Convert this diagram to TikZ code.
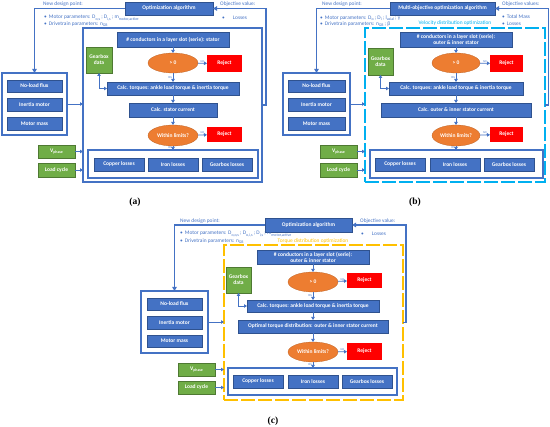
\documentclass[tikz,border=0pt]{standalone}
\usepackage{fontspec}
\setmainfont{Carlito}
\newfontfamily\capfont{Liberation Serif}
\usetikzlibrary{arrows.meta,shapes.geometric}
\definecolor{oblue}{HTML}{4472C4}
\definecolor{dblue}{HTML}{2F528F}
\definecolor{ogreen}{HTML}{70AD47}
\definecolor{oorange}{HTML}{ED7D31}
\definecolor{ored}{HTML}{FF0000}
\definecolor{ocyan}{HTML}{00B0F0}
\definecolor{ogold}{HTML}{FFC000}
\newcommand\sbs[1]{\raisebox{-0.45ex}{\fontsize{3.9}{4}\selectfont #1}}
\newcommand\bx[7]{\node[#6, minimum width={(#4-#2)*1pt}, minimum height={(#5-#3)*1pt}] (#1) at ({(#2+#4)/2},{(#3+#5)/2}) {#7};}
\tikzset{
  base/.style={inner sep=0pt, outer sep=0pt, font=\bfseries\fontsize{5.5}{6}\selectfont, text=white, align=center},
  bbox/.style={base, rectangle, fill=oblue, draw=dblue, line width=0.3pt},
  gbox/.style={base, rectangle, fill=ogreen, draw=ogreen!70!black, line width=0.3pt},
  rbox/.style={base, rectangle, fill=ored},
  ell/.style={base, ellipse, fill=oorange, draw=oorange!80!black, line width=0.3pt},
  grp/.style={rectangle, draw=oblue, line width=1.4pt, inner sep=0pt, outer sep=0pt},
  dgrp/.style={grp, dash pattern=on 14pt off 3pt, draw=ocyan},
  arr/.style={draw=oblue, line width=0.8pt, -{Triangle[length=3pt,width=3.5pt]}},
  fb/.style={draw=oblue, line width=1.4pt, -{Triangle[length=4pt,width=4.5pt]}},
  lbl/.style={font=\fontsize{5.4}{6}\selectfont, text=oblue, inner sep=0pt},
  yn/.style={font=\fontsize{2.8}{3}\selectfont, text=oblue, inner sep=0.6pt},
  captxt/.style={font=\capfont\bfseries\fontsize{9.5}{10}\selectfont, inner sep=0pt},
  dbl/.style={arr, {Triangle[length=3pt,width=3.5pt]}-{Triangle[length=3pt,width=3.5pt]}}
}
\begin{document}
\begin{tikzpicture}[x=1pt,y=-1pt]
\useasboundingbox (0,0) rectangle (550,427);
% ---------------- (a) ----------------
\bx{a-opt}{125}{2}{213}{15}{bbox}{Optimization algorithm}
\node[lbl,anchor=west] (a-ndp) at (43,4) {New design point:};
\node[lbl,anchor=west] (a-obj) at (220,4) {Objective value:};
\node[lbl,anchor=west] (a-mp) at (44,18) {•\hspace{2pt}Motor parameters: D\sbs{o,s} ; D\sbs{i,s} ; m\sbs{motor,active}};
\node[lbl,anchor=west] (a-dp) at (44,24) {•\hspace{2pt}Drivetrain parameters: n\sbs{GB}};
\node[lbl,anchor=west] (a-ls) at (222,18) {•\hspace{8pt}Losses};
\bx{a-main}{83}{28}{262}{182}{grp}{}
\bx{a-grp}{2}{73}{67}{135}{grp}{}
\bx{a-nlf}{7}{80}{62}{92}{bbox}{No-load flux}
\bx{a-inm}{7}{98}{62}{111}{bbox}{Inertia motor}
\bx{a-mm}{7}{117}{62}{130}{bbox}{Motor mass}
\bx{a-vph}{38}{145}{75}{158}{gbox}{V\sbs{phase}}
\bx{a-lc}{38}{163}{75}{177}{gbox}{Load cycle}
\bx{a-cond}{117}{32}{229}{47}{bbox}{\# conductors in a layer slot (serie): stator}
\bx{a-gb}{86}{47}{112}{73}{gbox}{Gearbox\\data}
\bx{a-g0}{148}{53}{198}{73}{ell}{> 0}
\bx{a-rj1}{207}{55}{242}{72}{rbox}{Reject}
\bx{a-trq}{107}{82}{239}{95}{bbox}{Calc. torques: ankle load torque \& inertia torque}
\bx{a-cur}{129}{103}{217}{117}{bbox}{Calc. stator current}
\bx{a-lim}{148}{125}{198}{146}{ell}{Within limits?}
\bx{a-rj2}{207}{127}{242}{142}{rbox}{Reject}
\bx{a-loss}{88}{150}{258}{178}{grp}{}
\bx{a-cu}{94}{158}{144}{171}{bbox}{Copper losses}
\bx{a-fe}{148}{158}{198}{171}{bbox}{Iron losses}
\bx{a-gl}{202}{158}{252}{171}{bbox}{Gearbox losses}
\node[captxt] (a-cap) at (135,202) {(a)};
\draw[fb] (a-opt.west) -| (a-grp.north);
\draw[fb] (a-main.east) -- ++(4,0) |- (a-opt.east);
\draw[arr] (a-grp.east) -- (a-grp.east -| a-main.west);
\draw[arr] (a-vph.east) -- (a-vph.east -| a-main.west);
\draw[arr] (a-lc.east) -- (a-lc.east -| a-main.west);
\draw[arr] (a-cond) -- (a-g0);
\draw[arr] (a-g0) -- node[yn,above] {NO} (a-rj1);
\draw[arr] (a-g0) -- node[yn,left] {YES} (a-trq);
\draw[dbl] (a-gb.south) |- (a-trq.west);
\draw[arr] (a-trq) -- (a-cur);
\draw[arr] (a-cur) -- (a-lim);
\draw[arr] (a-lim) -- node[yn,above] {NO} (a-rj2);
\draw[arr] (a-lim.south) -- node[yn,left] {YES} (a-lim.south |- a-loss.north);
% ---------------- (b) ----------------
\bx{b-opt}{390}{2}{495}{15}{bbox}{Multi-objective optimization algorithm}
\node[lbl,anchor=west] (b-ndp) at (322,4) {New design point:};
\node[lbl,anchor=west] (b-obj) at (502,4) {Objective values:};
\node[lbl,anchor=west] (b-mp) at (320,18) {•\hspace{2pt}Motor parameters: D\sbs{o} ; D\sbs{i} ; l\sbs{axial} ; γ};
\node[lbl,anchor=west] (b-dp) at (320,24) {•\hspace{2pt}Drivetrain parameters: n\sbs{GB} ; β};
\node[lbl,anchor=west] (b-tm) at (502,17) {•\hspace{2pt}Total Mass};
\node[lbl,anchor=west] (b-ls) at (502,24) {•\hspace{2pt}Losses};
\node[lbl,text=ocyan] (b-vdo) at (455,23) {Velocity distribution optimization};
\bx{b-main}{365}{28}{545}{182}{dgrp}{}
\bx{b-grp}{283}{73}{350}{135}{grp}{}
\bx{b-nlf}{288}{80}{345}{92}{bbox}{No-load flux}
\bx{b-inm}{288}{98}{345}{111}{bbox}{Inertia motor}
\bx{b-mm}{288}{117}{345}{130}{bbox}{Motor mass}
\bx{b-vph}{320}{145}{357}{158}{gbox}{V\sbs{phase}}
\bx{b-lc}{320}{163}{357}{177}{gbox}{Load cycle}
\bx{b-cond}{400}{32}{512}{47}{bbox}{\# conductors in a layer slot (serie):\\outer \& inner stator}
\bx{b-gb}{368}{48}{393}{75}{gbox}{Gearbox\\data}
\bx{b-g0}{432}{53}{480}{73}{ell}{> 0}
\bx{b-rj1}{490}{55}{523}{72}{rbox}{Reject}
\bx{b-trq}{389}{82}{523}{95}{bbox}{Calc. torques: ankle load torque \& inertia torque}
\bx{b-cur}{381}{103}{531}{117}{bbox}{Calc. outer \& inner stator current}
\bx{b-lim}{432}{125}{480}{146}{ell}{Within limits?}
\bx{b-rj2}{490}{127}{523}{142}{rbox}{Reject}
\bx{b-loss}{370}{150}{543}{178}{grp}{}
\bx{b-cu}{375}{158}{425}{171}{bbox}{Copper losses}
\bx{b-fe}{430}{158}{480}{171}{bbox}{Iron losses}
\bx{b-gl}{484}{158}{534}{171}{bbox}{Gearbox losses}
\node[captxt] (b-cap) at (415,202) {(b)};
\draw[fb] (b-opt.west) -| (b-grp.north);
\draw[fb] (b-main.east) -- ++(3.5,0) |- (b-opt.east);
\draw[arr] (b-grp.east) -- (b-grp.east -| b-main.west);
\draw[arr] (b-vph.east) -- (b-vph.east -| b-main.west);
\draw[arr] (b-lc.east) -- (b-lc.east -| b-main.west);
\draw[arr] (b-cond) -- (b-g0);
\draw[arr] (b-g0) -- node[yn,above] {NO} (b-rj1);
\draw[arr] (b-g0) -- node[yn,left] {YES} (b-trq);
\draw[dbl] (b-gb.south) |- (b-trq.west);
\draw[arr] (b-trq) -- (b-cur);
\draw[arr] (b-cur) -- (b-lim);
\draw[arr] (b-lim) -- node[yn,above] {NO} (b-rj2);
\draw[arr] (b-lim.south) -- node[yn,left] {YES} (b-lim.south |- b-loss.north);
% ---------------- (c) ----------------
\bx{c-opt}{265}{218}{352}{232}{bbox}{Optimization algorithm}
\node[lbl,anchor=west] (c-ndp) at (180,221) {New design point:};
\node[lbl,anchor=west] (c-obj) at (360,221) {Objective value:};
\node[lbl,anchor=west] (c-mp) at (180,234) {•\hspace{2pt}Motor parameters: D\sbs{o,o,s} ; D\sbs{o,i,s} ; D\sbs{i,s} ; m\sbs{motor,active}};
\node[lbl,anchor=west] (c-dp) at (180,241) {•\hspace{2pt}Drivetrain parameters: n\sbs{GB}};
\node[lbl,anchor=west] (c-ls) at (361,234) {•\hspace{8pt}Losses};
\node[lbl,text=ogold] (c-tdo) at (313,241) {Torque distribution optimization};
\bx{c-main}{224}{245}{403}{400}{dgrp,draw=ogold}{}
\bx{c-grp}{141}{291}{208}{353}{grp}{}
\bx{c-nlf}{147}{298}{202}{310}{bbox}{No-load flux}
\bx{c-inm}{147}{316}{202}{329}{bbox}{Inertia motor}
\bx{c-mm}{147}{335}{202}{347}{bbox}{Motor mass}
\bx{c-vph}{178}{363}{215}{376}{gbox}{V\sbs{phase}}
\bx{c-lc}{178}{381}{215}{394}{gbox}{Load cycle}
\bx{c-cond}{257}{250}{369}{264}{bbox}{\# conductors in a layer slot (serie):\\outer \& inner stator}
\bx{c-gb}{226}{267}{251}{293}{gbox}{Gearbox\\data}
\bx{c-g0}{288}{272}{338}{292}{ell}{> 0}
\bx{c-rj1}{347}{273}{382}{288}{rbox}{Reject}
\bx{c-trq}{247}{300}{379}{312}{bbox}{Calc. torques: ankle load torque \& inertia torque}
\bx{c-cur}{238}{320}{388}{333}{bbox}{Optimal torque distribution: outer \& inner stator current}
\bx{c-lim}{288}{342}{338}{362}{ell}{Within limits?}
\bx{c-rj2}{347}{343}{382}{360}{rbox}{Reject}
\bx{c-loss}{228}{368}{397}{395}{grp}{}
\bx{c-cu}{233}{375}{283}{388}{bbox}{Copper losses}
\bx{c-fe}{288}{375}{338}{388}{bbox}{Iron losses}
\bx{c-gl}{342}{375}{392}{388}{bbox}{Gearbox losses}
\node[captxt] (c-cap) at (273,421) {(c)};
\draw[fb] (c-opt.west) -| (c-grp.north);
\draw[fb] (c-main.east) -- ++(3,0) |- (c-opt.east);
\draw[arr] (c-grp.east) -- (c-grp.east -| c-main.west);
\draw[arr] (c-vph.east) -- (c-vph.east -| c-main.west);
\draw[arr] (c-lc.east) -- (c-lc.east -| c-main.west);
\draw[arr] (c-cond) -- (c-g0);
\draw[arr] (c-g0) -- node[yn,above] {NO} (c-rj1);
\draw[arr] (c-g0) -- node[yn,left] {YES} (c-trq);
\draw[dbl] (c-gb.south) |- (c-trq.west);
\draw[arr] (c-trq) -- (c-cur);
\draw[arr] (c-cur) -- (c-lim);
\draw[arr] (c-lim) -- node[yn,above] {NO} (c-rj2);
\draw[arr] (c-lim.south) -- node[yn,left] {YES} (c-lim.south |- c-loss.north);
\end{tikzpicture}
\end{document}
